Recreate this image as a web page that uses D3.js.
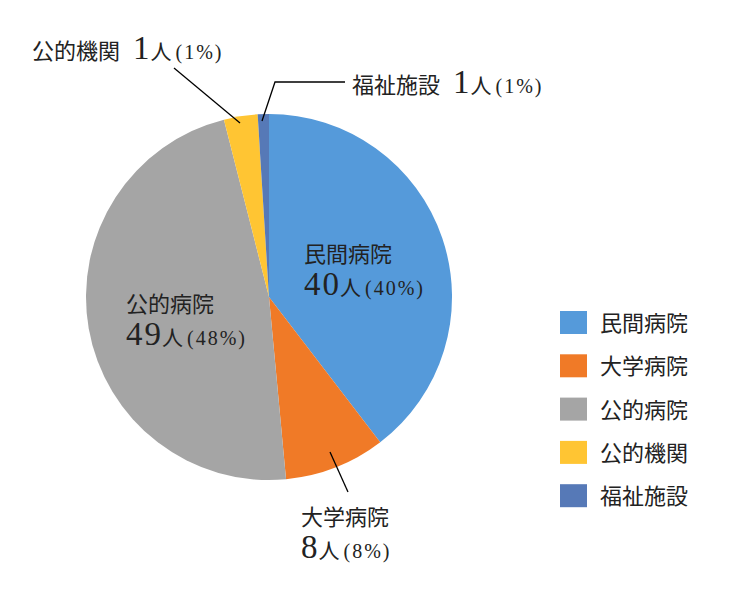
<!doctype html>
<html>
<head>
<meta charset="utf-8">
<script src="https://d3js.org/d3.v7.min.js"></script>
<style>
  body { margin: 0; background: #fff; }
  .nm { font-family: "Liberation Serif", "Noto Sans CJK JP", serif; font-size: 22px; fill: #222; }
  .big { font-family: "Liberation Serif", serif; font-size: 33px; letter-spacing: 2px; }
  .unit { font-family: "Noto Sans CJK JP", serif; font-size: 21px; }
  .pct { font-family: "Liberation Serif", serif; font-size: 20px; letter-spacing: 2px; }
  .leg { font-family: "Noto Sans CJK JP", serif; font-size: 22px; fill: #222; }
</style>
</head>
<body>
<script>
  // categories, shown counts and percents, and slice shares
  var categories = ["民間病院", "大学病院", "公的病院", "公的機関", "福祉施設"];
  var counts = [40, 8, 49, 1, 1];
  var percents = ["40%", "8%", "48%", "1%", "1%"];
  var shares = [40, 9, 48, 3, 1];
  var colors = ["#559ADA", "#F07A27", "#A5A5A5", "#FFC533", "#5679B7"];

  var w = 750, h = 600;
  var cx = 269, cy = 297, r = 183;

  var svg = d3.select("body").append("svg")
      .attr("width", w)
      .attr("height", h);

  var pie = d3.pie().sort(null).value(function(d) { return d; });
  var arc = d3.arc().innerRadius(0).outerRadius(r);
  var arcs = pie(shares);

  var g = svg.append("g").attr("transform", "translate(" + cx + "," + cy + ")");
  g.selectAll("path")
    .data(arcs)
    .enter()
    .append("path")
    .attr("d", arc)
    .attr("fill", function(d, i) { return colors[i]; });

  // label positions (name line, then the count line)
  var labelPos = [
    { x: 304, y: 262, two: true },
    { x: 301, y: 525, two: true },
    { x: 126, y: 312, two: true },
    { x: 32, y: 59, two: false },
    { x: 352, y: 93, two: false }
  ];

  labelPos.forEach(function(p, i) {
    var t = svg.append("text").attr("class", "nm").attr("x", p.x).attr("y", p.y);
    t.append("tspan").text(categories[i]);
    var line = p.two ? t.append("tspan").attr("x", p.x).attr("dy", 33) : t.append("tspan").attr("dx", 13);
    line.attr("class", "big").text(counts[i]);
    t.append("tspan").attr("class", "unit").attr("dx", -1).text("人");
    t.append("tspan").attr("class", "pct").attr("dx", 4).text("(" + percents[i] + ")");
  });

  // leader lines
  var leaders = [
    [[330, 452], [348, 492]],
    [[174, 68], [240, 123]],
    [[345, 82], [275, 82], [262, 121]]
  ];
  svg.selectAll("path.leader")
    .data(leaders)
    .enter()
    .append("path")
    .attr("class", "leader")
    .attr("d", d3.line())
    .attr("fill", "none")
    .attr("stroke", "#000")
    .attr("stroke-width", 1.3);

  // legend
  var legend = svg.append("g").attr("transform", "translate(560,311)");
  var rows = legend.selectAll("g")
    .data(categories)
    .enter()
    .append("g")
    .attr("transform", function(d, i) { return "translate(0," + (i * 43.3) + ")"; });
  rows.append("rect")
    .attr("width", 27)
    .attr("height", 23)
    .attr("fill", function(d, i) { return colors[i]; });
  rows.append("text")
    .attr("class", "leg")
    .attr("x", 40)
    .attr("y", 20)
    .text(function(d) { return d; });
</script>
</body>
</html>
